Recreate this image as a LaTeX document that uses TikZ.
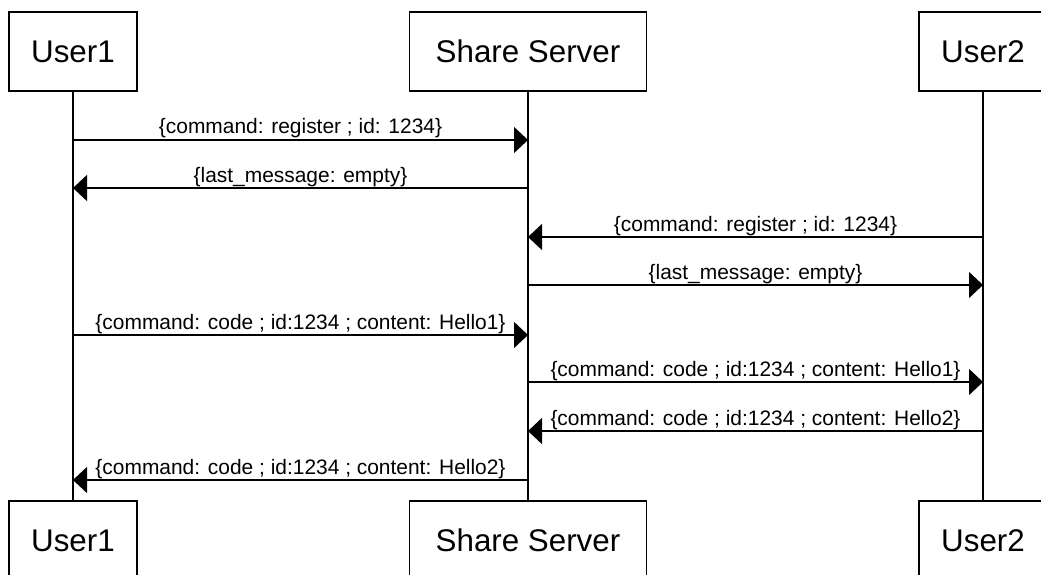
\documentclass[tikz,border=0pt]{standalone}
\usepackage{fontspec}
\setmainfont{Liberation Sans}
\usetikzlibrary{arrows.meta}

\tikzset{
  actor/.style={draw, line width=0.9pt, inner sep=0pt, minimum width=96pt, minimum height=59.25pt, font=\fontsize{23.5}{28}\selectfont},
  server/.style={actor, minimum width=177.75pt},
  life/.style={line width=0.9pt},
  msg/.style={line width=0.9pt, -{Triangle[length=10.5pt,width=19.5pt]}},
  msglabel/.style={midway, anchor=base, yshift=4.5pt, inner sep=0pt, font=\fontsize{15.7}{18}\selectfont},
}

\begin{document}
\begin{tikzpicture}[x=0.75pt,y=-0.75pt]
\useasboundingbox (0,0) rectangle (1041,574);

\node[actor] (U1top) at (73,51.5) {User1};
\node[server] (SStop) at (528,51.5) {Share Server};
\node[actor] (U2top) at (983,51.5) {User2};

\node[actor] (U1bot) at (73,540.5) {User1};
\node[server] (SSbot) at (528,540.5) {Share Server};
\node[actor] (U2bot) at (983,540.5) {User2};

\draw[life] (U1top) -- (U1bot);
\draw[life] (SStop) -- (SSbot);
\draw[life] (U2top) -- (U2bot);

\coordinate (U1a) at (73,140);
\coordinate (SSa) at (528,140);
\coordinate (U1b) at (73,188);
\coordinate (SSb) at (528,188);
\coordinate (U2c) at (983,237);
\coordinate (SSc) at (528,237);
\coordinate (U2d) at (983,285);
\coordinate (SSd) at (528,285);
\coordinate (U1e) at (73,335);
\coordinate (SSe) at (528,335);
\coordinate (U2f) at (983,382);
\coordinate (SSf) at (528,382);
\coordinate (U2g) at (983,431);
\coordinate (SSg) at (528,431);
\coordinate (U1h) at (73,480);
\coordinate (SSh) at (528,480);

\draw[msg] (U1a) -- (SSa) node[msglabel] (m1) {\{command: register ; id: 1234\}};
\draw[msg] (SSb) -- (U1b) node[msglabel] (m2) {\{last\_message: empty\}};
\draw[msg] (U2c) -- (SSc) node[msglabel] (m3) {\{command: register ; id: 1234\}};
\draw[msg] (SSd) -- (U2d) node[msglabel] (m4) {\{last\_message: empty\}};
\draw[msg] (U1e) -- (SSe) node[msglabel] (m5) {\{command: code ; id:1234 ; content: Hello1\}};
\draw[msg] (SSf) -- (U2f) node[msglabel] (m6) {\{command: code ; id:1234 ; content: Hello1\}};
\draw[msg] (U2g) -- (SSg) node[msglabel] (m7) {\{command: code ; id:1234 ; content: Hello2\}};
\draw[msg] (SSh) -- (U1h) node[msglabel] (m8) {\{command: code ; id:1234 ; content: Hello2\}};

\end{tikzpicture}
\end{document}
